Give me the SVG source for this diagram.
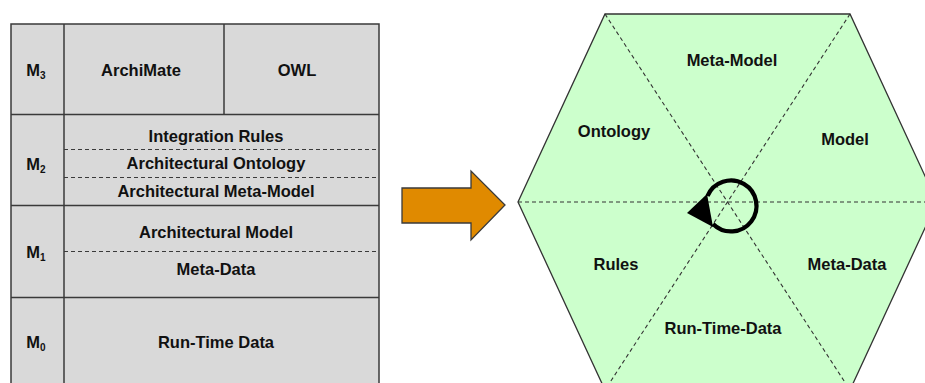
<svg xmlns="http://www.w3.org/2000/svg" width="925" height="383" viewBox="0 0 925 383">
  <style>
    .cell { fill: #d9d9d9; stroke: #3a3a3a; stroke-width: 1.5; }
    .rule { stroke: #3a3a3a; stroke-width: 1.5; fill: none; }
    .dash { stroke: #3a3a3a; stroke-width: 1.2; stroke-dasharray: 4 3; fill: none; }
    .hdash { stroke: #333; stroke-width: 1.1; stroke-dasharray: 4 3; fill: none; }
    text { font-family: "Liberation Sans", Arial, sans-serif; font-weight: bold; font-size: 16.5px; fill: #111; text-anchor: middle; }
    .sub { font-size: 10px; }
  </style>

  <!-- Layered meta-model stack -->
  <g id="stack">
    <rect class="cell" x="11" y="24" width="368" height="380"/>
    <line class="rule" x1="64" y1="24" x2="64" y2="383"/>
    <line class="rule" x1="224" y1="24" x2="224" y2="114.5"/>
    <line class="rule" x1="11" y1="114.5" x2="379" y2="114.5"/>
    <line class="rule" x1="11" y1="205.5" x2="379" y2="205.5"/>
    <line class="rule" x1="11" y1="297.5" x2="379" y2="297.5"/>
    <line class="dash" x1="64" y1="149.5" x2="379" y2="149.5"/>
    <line class="dash" x1="64" y1="177.5" x2="379" y2="177.5"/>
    <line class="dash" x1="64" y1="251.5" x2="379" y2="251.5"/>
  </g>

  <g id="layer-m3">
    <text x="36" y="76">M<tspan class="sub" dy="3">3</tspan></text>
    <text x="141" y="76">ArchiMate</text>
    <text x="297" y="76">OWL</text>
  </g>
  <g id="layer-m2">
    <text x="36" y="170">M<tspan class="sub" dy="3">2</tspan></text>
    <text x="216" y="142">Integration Rules</text>
    <text x="216" y="169">Architectural Ontology</text>
    <text x="216" y="197">Architectural Meta-Model</text>
  </g>
  <g id="layer-m1">
    <text x="36" y="258">M<tspan class="sub" dy="3">1</tspan></text>
    <text x="216" y="238">Architectural Model</text>
    <text x="216" y="275">Meta-Data</text>
  </g>
  <g id="layer-m0">
    <text x="36" y="348">M<tspan class="sub" dy="3">0</tspan></text>
    <text x="216" y="348">Run-Time Data</text>
  </g>

  <!-- Transition arrow -->
  <g id="connectors">
    <polygon points="402,188 471,188 471,171 505,205 471,240 471,223 402,223"
             fill="#e08a00" stroke="#3a3a3a" stroke-width="1.3" stroke-linejoin="miter"/>
  </g>

  <!-- Hexagonal cycle -->
  <g id="hexagon">
    <polygon points="518,202 605,14 850,14 937,202 850,390 605,390"
             fill="#ccffcc" stroke="#333" stroke-width="1.3"/>
    <line class="hdash" x1="518" y1="202" x2="937" y2="202"/>
    <line class="hdash" x1="605" y1="14" x2="850" y2="390"/>
    <line class="hdash" x1="850" y1="14" x2="605" y2="390"/>
  </g>

  <g id="cycle-arrow">
    <path d="M 707.5 196 A 25.5 25.5 0 1 1 713 224" fill="none" stroke="#000" stroke-width="4.3"/>
    <polygon points="687,213 707,194 713,227" fill="#000"/>
  </g>

  <g id="seg-meta-model"><text x="732" y="66">Meta-Model</text></g>
  <g id="seg-model"><text x="845" y="145">Model</text></g>
  <g id="seg-meta-data"><text x="847" y="270">Meta-Data</text></g>
  <g id="seg-run-time-data"><text x="723" y="334">Run-Time-Data</text></g>
  <g id="seg-rules"><text x="616" y="270">Rules</text></g>
  <g id="seg-ontology"><text x="614" y="137">Ontology</text></g>
</svg>
